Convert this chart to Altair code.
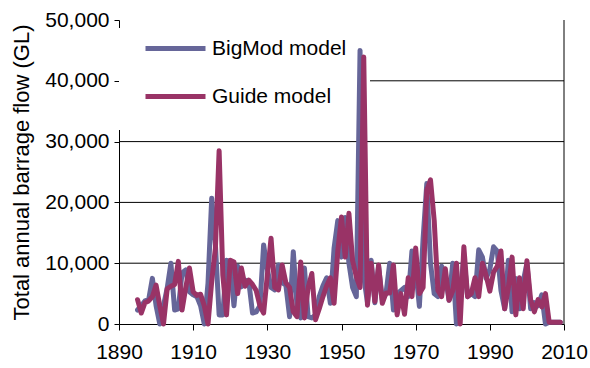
import altair as alt
import pandas as pd

years = list(range(1895, 2010))

bigmod = [
    2300, 3000, 3800, 4000, 7500, 3000, 0, 3000, 5900, 10000,      # 1895-1904
    2300, 2500, 8400, 8900, 5300, 4800, 4500, 3000, 0, 6700,       # 1905-1914
    20700, 13000, 1500, 1500, 10500, 10000, 3000, 9500, 6100, 7200,  # 1915-1924
    7000, 1800, 2000, 3000, 13000, 9000, 6000, 5600, 9700, 6800,    # 1925-1934
    6400, 1200, 11900, 3000, 1000, 9200, 1200, 1000, 1500, 4500,    # 1935-1944
    6300, 7600, 3400, 12500, 17000, 11000, 17500, 10000, 6000, 4500,  # 1945-1954
    45000, 7800, 3500, 10500, 3500, 9500, 4000, 5000, 10000, 2300,  # 1955-1964
    5000, 5500, 6000, 4500, 12000, 9000, 2900, 14000, 23100, 10000,  # 1965-1974
    5000, 4500, 9500, 8000, 3900, 10000, 0, 5000, 11000, 4500,      # 1975-1984
    5000, 4500, 12200, 11000, 7500, 9000, 12700, 12000, 5500, 2500,  # 1985-1994
    10500, 2000, 7500, 2500, 7000, 10000, 2500, 3500, 3000, 4800,   # 1995-2004
    0, 300, 300, 300, 300,                                          # 2005-2009
]

guide = [
    4000, 1800, 3500, 3800, 4500, 6400, 3000, 0, 5800, 6200,        # 1895-1904
    6500, 10300, 2300, 6000, 9200, 5300, 4700, 4900, 3000, 0,       # 1905-1914
    7000, 12500, 28500, 8000, 1500, 10500, 10200, 5000, 9200, 6200,  # 1915-1924
    7200, 6500, 5500, 3000, 1800, 8000, 14100, 6000, 5600, 9700,    # 1925-1934
    6800, 6000, 2000, 1200, 10200, 1000, 6000, 8300, 700, 2500,     # 1935-1944
    4500, 6300, 7600, 3400, 12000, 17600, 11000, 18200, 10400, 7800,  # 1945-1954
    6000, 43900, 3100, 10000, 3700, 9700, 3400, 5100, 5100, 9700,   # 1955-1964
    1500, 5000, 1600, 7600, 4500, 12500, 5000, 6000, 22000, 23700,  # 1965-1974
    17000, 5500, 4500, 9100, 3900, 5500, 10000, 0, 12700, 4500,     # 1975-1984
    5000, 7600, 4500, 10000, 8000, 5400, 8500, 9500, 12000, 2500,   # 1985-1994
    6000, 11000, 1500, 7600, 2500, 10400, 4000, 2000, 4000, 2800,   # 1995-2004
    5000, 300, 300, 300, 300,                                       # 2005-2009
]

series_names = ["BigMod model", "Guide model"]
series_colors = ["#666699", "#993366"]
x_ticks = [1890, 1910, 1930, 1950, 1970, 1990, 2010]
y_ticks = [0, 10000, 20000, 30000, 40000, 50000]
grid_values = [10000, 20000, 30000, 40000]

df = pd.concat([
    pd.DataFrame({"year": years, "flow": bigmod, "model": series_names[0], "k": 0}),
    pd.DataFrame({"year": years, "flow": guide, "model": series_names[1], "k": 1}),
])
grid_df = pd.DataFrame({"flow": grid_values})
one_row = pd.DataFrame({"v": [0]})

FONT = "Liberation Sans"

x_scale = alt.Scale(domain=[1890, 2010], nice=False, zero=False)
y_scale = alt.Scale(domain=[0, 50000], nice=False)

y_axis = alt.Axis(
    values=y_ticks, format=",.0f", title="Total annual barrage flow (GL)",
    titleFontSize=22, titleFont=FONT, titleFontWeight="normal",
    titleColor="#000", titlePadding=11,
    tickSize=5, labelPadding=5, labelFontSize=21, labelFont=FONT,
    labelColor="#000", tickColor="#000", domainColor="#000",
    grid=False,
)
x_axis = alt.Axis(
    values=x_ticks, format="d", title=None, grid=False,
    tickSize=6, labelPadding=11, labelFontSize=21,
    labelFont=FONT, labelColor="#000", tickColor="#000",
    domainColor="#000", labelFlush=False,
)

# horizontal gridlines (none at the top of the range)
grid = alt.Chart(grid_df).mark_rule(color="#000", strokeWidth=1).encode(
    y=alt.Y("flow:Q", scale=y_scale, axis=y_axis)
)

# white panel behind the legend
legend_panel = alt.Chart(one_row).mark_rect(color="white").encode(
    x=alt.value(0), x2=alt.value(251), y=alt.value(8), y2=alt.value(110)
)

# right-hand frame of the plot area
frame = alt.Chart(one_row).mark_rule(color="#000", strokeWidth=1).encode(
    x=alt.value(445), y=alt.value(0), y2=alt.value(304)
)

lines = (
    alt.Chart(df)
    .mark_line(strokeWidth=5, strokeJoin="round", strokeCap="round")
    .encode(
        x=alt.X("year:Q", scale=x_scale, axis=x_axis),
        y=alt.Y("flow:Q", scale=y_scale, axis=y_axis),
        color=alt.Color(
            "model:N",
            scale=alt.Scale(domain=series_names, range=series_colors),
            legend=alt.Legend(
                title=None, orient="none", legendX=24, legendY=-4,
                symbolType="stroke", symbolSize=3600, symbolStrokeWidth=5,
                labelFontSize=21, labelFont=FONT, labelColor="#000",
                labelOffset=4, rowPadding=5, padding=0, labelLimit=300,
            ),
        ),
        order=alt.Order("k:Q"),
    )
)

chart = (
    alt.layer(grid, legend_panel, frame, lines)
    .properties(width=445, height=304,
                padding={"left": 119, "top": 20, "right": 26, "bottom": 44},
                autosize=alt.AutoSizeParams(type="none"))
    .configure_view(stroke=None)
)

chart.save("out.html", embed_options={"renderer": "svg", "actions": False})
